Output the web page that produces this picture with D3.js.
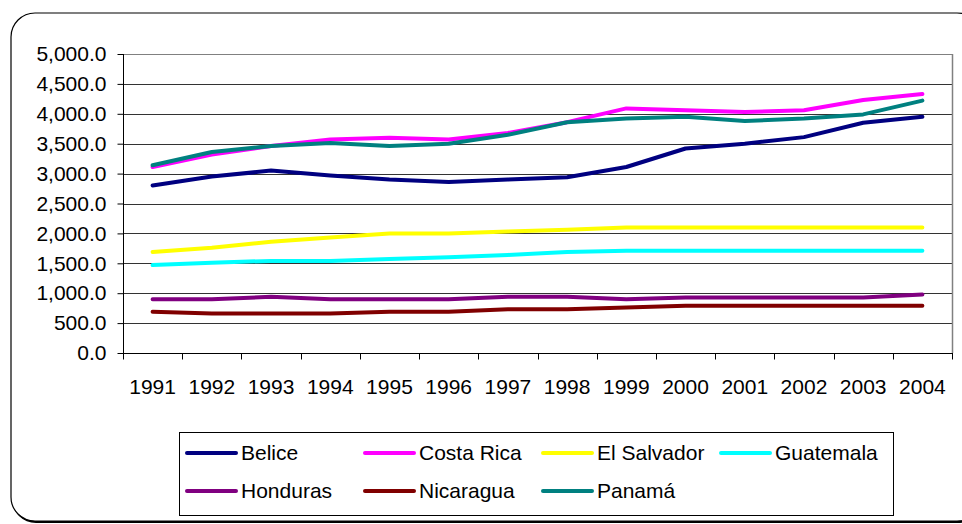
<!DOCTYPE html>
<html>
<head>
<meta charset="utf-8">
<script src="https://cdn.jsdelivr.net/npm/d3@7"></script>
<style>
  body { margin: 0; background: #fff; }
  svg { display: block; font-family: "Liberation Sans", Arial, sans-serif; }
</style>
</head>
<body>
<svg id="chart" width="962" height="524"></svg>
<script>
var years = [1991, 1992, 1993, 1994, 1995, 1996, 1997, 1998, 1999, 2000, 2001, 2002, 2003, 2004];
var yTicks = [0, 500, 1000, 1500, 2000, 2500, 3000, 3500, 4000, 4500, 5000];

var belice     = [2800, 2950, 3050, 2970, 2900, 2860, 2900, 2940, 3110, 3420, 3500, 3610, 3850, 3950];
var costaRica  = [3110, 3320, 3460, 3570, 3600, 3570, 3680, 3860, 4090, 4060, 4030, 4060, 4230, 4330];
var elSalvador = [1690, 1760, 1860, 1930, 2000, 2000, 2030, 2060, 2100, 2100, 2100, 2100, 2100, 2100];
var guatemala  = [1470, 1510, 1540, 1540, 1570, 1600, 1640, 1690, 1710, 1710, 1710, 1710, 1710, 1710];
var honduras   = [900, 900, 940, 900, 900, 900, 940, 940, 900, 930, 930, 930, 930, 980];
var nicaragua  = [690, 660, 660, 660, 690, 690, 730, 730, 760, 790, 790, 790, 790, 790];
var panama     = [3140, 3360, 3460, 3510, 3460, 3500, 3650, 3860, 3920, 3950, 3880, 3920, 3990, 4220];

var seriesNames = ["Belice", "Costa Rica", "El Salvador", "Guatemala", "Honduras", "Nicaragua", "Panamá"];
var seriesValues = [belice, costaRica, elSalvador, guatemala, honduras, nicaragua, panama];
var seriesColors = ["#000080", "#ff00ff", "#ffff00", "#00ffff", "#800080", "#800000", "#008080"];

var svg = d3.select("#chart");

// rounded chart frame with a little shadow at the bottom
svg.append("rect")
  .attr("x", 12).attr("y", 14).attr("width", 970).attr("height", 509)
  .attr("rx", 24).attr("fill", "#000");
svg.append("rect")
  .attr("x", 11).attr("y", 13).attr("width", 970).attr("height", 508)
  .attr("rx", 24).attr("fill", "#fff")
  .attr("stroke", "#000").attr("stroke-width", 1.2);

var plot = { left: 123, top: 54, right: 952, bottom: 353 };

var x = d3.scaleBand()
  .domain(years)
  .range([plot.left, plot.right]);

var y = d3.scaleLinear()
  .domain([0, 5000])
  .range([plot.bottom, plot.top]);

// gridlines
svg.append("g")
  .selectAll("line")
  .data(yTicks.filter(function(d) { return d > 0; }))
  .enter().append("line")
  .attr("x1", plot.left).attr("x2", plot.right)
  .attr("y1", function(d) { return Math.round(y(d)) + 0.5; })
  .attr("y2", function(d) { return Math.round(y(d)) + 0.5; })
  .attr("stroke", function(d) { return d === 5000 ? "#808080" : "#333"; })
  .attr("stroke-width", 1);

// right border of plot area
svg.append("line")
  .attr("x1", plot.right + 0.5).attr("x2", plot.right + 0.5)
  .attr("y1", plot.top).attr("y2", plot.bottom)
  .attr("stroke", "#808080").attr("stroke-width", 1.5);

// y axis
var yAxis = svg.append("g")
  .attr("transform", "translate(" + (plot.left + 0.5) + ",0)")
  .call(d3.axisLeft(y).tickValues(yTicks).tickSize(6).tickPadding(11)
    .tickFormat(d3.format(",.1f")));
yAxis.selectAll("text").attr("font-size", 21).attr("fill", "#000");
yAxis.selectAll("line").attr("stroke", "#000");
yAxis.select(".domain").attr("stroke", "#000").attr("d", "M0," + plot.top + "V" + plot.bottom);

// x axis, ticks at category boundaries
var xAxis = svg.append("g")
  .attr("transform", "translate(0," + (plot.bottom + 0.5) + ")");
xAxis.append("line")
  .attr("x1", plot.left).attr("x2", plot.right + 1)
  .attr("stroke", "#000");
xAxis.selectAll("line.tick")
  .data(years.concat(["end"]))
  .enter().append("line")
  .attr("class", "tick")
  .attr("x1", function(d, i) { return Math.round(plot.left + i * x.step()) + 0.5; })
  .attr("x2", function(d, i) { return Math.round(plot.left + i * x.step()) + 0.5; })
  .attr("y1", 0).attr("y2", 6)
  .attr("stroke", "#000");
xAxis.selectAll("text")
  .data(years)
  .enter().append("text")
  .attr("x", function(d) { return x(d) + x.bandwidth() / 2; })
  .attr("y", 40)
  .attr("text-anchor", "middle")
  .attr("font-size", 21)
  .text(function(d) { return d; });

// lines
var line = d3.line()
  .x(function(d, i) { return x(years[i]) + x.bandwidth() / 2; })
  .y(function(d) { return y(d); });

svg.append("g")
  .selectAll("path")
  .data(seriesValues)
  .enter().append("path")
  .attr("d", line)
  .attr("fill", "none")
  .attr("stroke", function(d, i) { return seriesColors[i]; })
  .attr("stroke-width", 4)
  .attr("stroke-linejoin", "round")
  .attr("stroke-linecap", "round");

// legend
var legend = svg.append("g");
legend.append("rect")
  .attr("x", 179.5).attr("y", 432.5).attr("width", 714).attr("height", 83)
  .attr("fill", "#fff").attr("stroke", "#000");

var item = legend.selectAll("g.item")
  .data(seriesNames)
  .enter().append("g")
  .attr("class", "item")
  .attr("transform", function(d, i) {
    return "translate(" + (186 + (i % 4) * 178) + "," + (i < 4 ? 453 : 491) + ")";
  });
item.append("line")
  .attr("x1", 1).attr("x2", 50)
  .attr("stroke", function(d, i) { return seriesColors[i]; })
  .attr("stroke-width", 4)
  .attr("stroke-linecap", "round");
item.append("text")
  .attr("x", 55).attr("y", 7)
  .attr("font-size", 21)
  .text(function(d) { return d; });
</script>
</body>
</html>
